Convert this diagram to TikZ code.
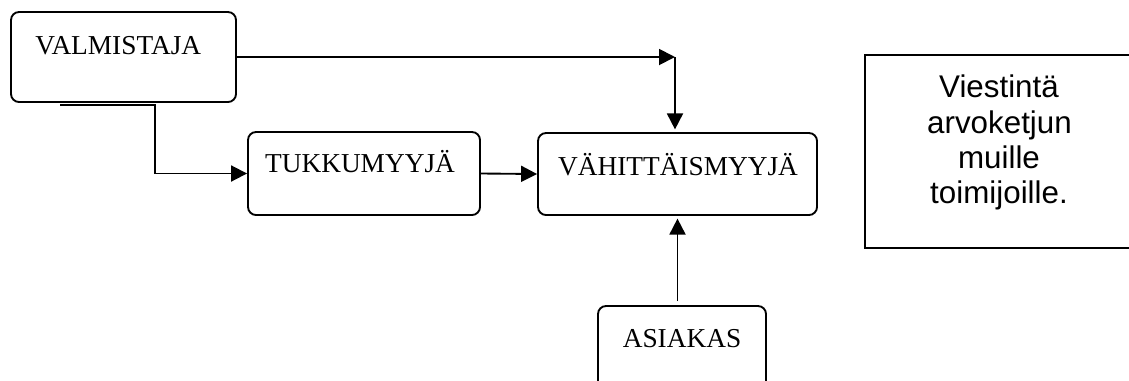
\documentclass[tikz,border=0pt]{standalone}
\usepackage{fontspec}
\setmainfont{Liberation Serif}
\newfontfamily\arialf{Liberation Sans}
\usetikzlibrary{arrows.meta}
\begin{document}
\begin{tikzpicture}[x=0.75pt,y=-0.75pt,
  box/.style={draw, line width=1.4pt, rounded corners=6pt, inner sep=0pt},
  sbox/.style={draw, line width=1.4pt, inner sep=0pt},
  lbl/.style={font=\fontsize{20.5}{24}\selectfont, anchor=base, inner sep=0pt},
  slbl/.style={font=\arialf\fontsize{23.5}{27}\selectfont, anchor=base, inner sep=0pt},
  arr/.style={line width=1.4pt, -{Triangle[length=12pt,width=12pt]}},
  ln/.style={line width=1.4pt}]
\useasboundingbox (0,0) rectangle (1129,380);
\clip (0,0) rectangle (1129,380);
% boxes
\node[box, minimum width=168.75pt, minimum height=67.5pt] (valm) at (123.5,57) {};
\node[box, minimum width=174pt, minimum height=62.25pt] (tukku) at (364,173.5) {};
\node[box, minimum width=209.25pt, minimum height=61.5pt] (vah) at (677.5,174) {};
\node[box, minimum width=126pt, minimum height=70.5pt] (asi) at (682,353) {};
\node[sbox, minimum width=206.25pt, minimum height=144.75pt] (msg) at (1002.5,151.5) {};
% labels
\node[lbl, anchor=base west] (tvalm) at (35,54) {VALMISTAJA};
\node[lbl] (ttukku) at (360,172) {TUKKUMYYJÄ};
\node[lbl] (tvah) at (678,175) {VÄHITTÄISMYYJÄ};
\node[lbl] (tasi) at (682,347) {ASIAKAS};
\node[slbl] (m1) at (999,97) {Viestintä};
\node[slbl] (m2) at (999.5,133) {arvoketjun};
\node[slbl] (m3) at (999,168) {muille};
\node[slbl] (m4) at (999,203) {toimijoille.};
% connectors
\coordinate (c1) at (675,57);
\coordinate (c2) at (60,105);
\coordinate (c3) at (155,105);
\draw[arr] (valm.east) -- (c1);
\draw[arr, shorten >=2pt] (c1) -- (c1 |- vah.north);
\draw[arr] (c2) -- (c3) |- (tukku.west);
\draw[arr] (tukku.east) -- (vah.west);
\draw[arr, shorten <=3pt, shorten >=2pt] (vah.south |- asi.north) -- (vah.south);
\end{tikzpicture}
\end{document}
